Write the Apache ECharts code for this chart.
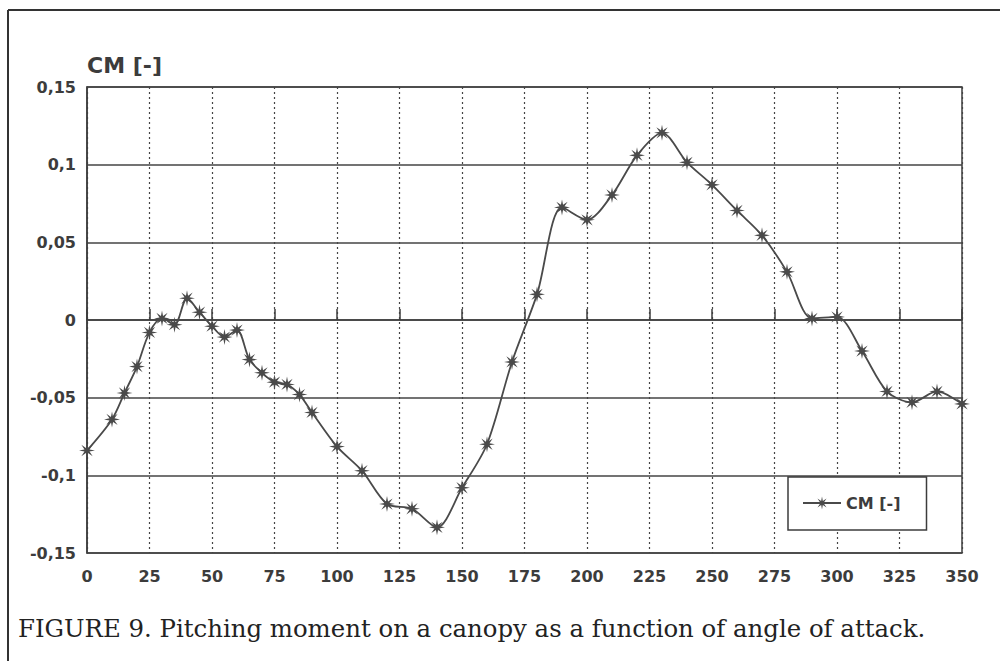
<!DOCTYPE html>
<html>
<head>
<meta charset="utf-8">
<script src="https://cdn.jsdelivr.net/npm/echarts@6/dist/echarts.min.js"></script>
<style>
  html, body { margin: 0; padding: 0; background: #fff; }
  #chart { width: 1000px; height: 661px; }
</style>
</head>
<body>
<div id="chart"></div>
<script>
// angle of attack [deg]
const angles = [0, 10, 15, 20, 25, 30, 35, 40, 45, 50, 55, 60, 65, 70, 75, 80, 85, 90,
  100, 110, 120, 130, 140, 150, 160, 170, 180, 190, 200, 210, 220, 230, 240, 250,
  260, 270, 280, 290, 300, 310, 320, 330, 340, 350];
// pitching moment CM [-]
const cm = [-0.084, -0.064, -0.047, -0.030, -0.008, 0.001, -0.003, 0.014, 0.005, -0.004,
  -0.011, -0.0065, -0.0255, -0.034, -0.040, -0.0415, -0.048, -0.0595,
  -0.0815, -0.097, -0.1185, -0.1215, -0.1335, -0.108, -0.080, -0.027, 0.0165, 0.0725,
  0.0645, 0.0805, 0.106, 0.1205, 0.1015, 0.087, 0.0705, 0.0545, 0.031, 0.001,
  0.002, -0.020, -0.046, -0.053, -0.046, -0.054];

const xTicks = [0, 25, 50, 75, 100, 125, 150, 175, 200, 225, 250, 275, 300, 325, 350];
const yTicks = [-0.15, -0.1, -0.05, 0, 0.05, 0.1, 0.15];
const yTickLabels = ['-0,15', '-0,1', '-0,05', '0', '0,05', '0,1', '0,15'];

const seriesName = 'CM [-]';
const caption = 'FIGURE 9. Pitching moment on a canopy as a function of angle of attack.';

// asterisk marker
function starPath() {
  let d = '';
  for (let i = 0; i < 16; i++) {
    const a = i * Math.PI / 8;
    const r = i % 2 === 0 ? 50 : 17;
    const x = (50 + r * Math.sin(a)).toFixed(2);
    const y = (50 - r * Math.cos(a)).toFixed(2);
    d += (i === 0 ? 'M' : 'L') + x + ' ' + y + ' ';
  }
  return 'path://' + d + 'Z';
}

const ink = '#3c3c3c';
const labelFont = { color: ink, fontFamily: 'DejaVu Sans', fontWeight: 'bold', fontSize: 16 };

const chart = echarts.init(document.getElementById('chart'), null, { renderer: 'svg' });
chart.setOption({
  backgroundColor: '#fff',
  animation: false,
  grid: {
    left: 87, top: 87, right: 38, bottom: 108,
    show: true, borderColor: ink, borderWidth: 1.5
  },
  legend: {
    left: 788, top: 477,
    width: 130,
    padding: [18, 26, 19, 14],
    backgroundColor: '#fff',
    borderColor: ink, borderWidth: 1.5,
    itemWidth: 38, itemHeight: 16,
    textStyle: labelFont,
    data: [seriesName]
  },
  xAxis: {
    type: 'value',
    min: xTicks[0], max: xTicks[xTicks.length - 1], interval: 25,
    axisLine: { show: true, lineStyle: { color: ink, width: 1.5 } },
    axisTick: { show: true, inside: true, length: 11, lineStyle: { color: ink, width: 1.5 } },
    axisLabel: Object.assign({ margin: 15 }, labelFont),
    splitLine: { show: true, lineStyle: { color: '#444', type: [2, 3], width: 1.2 } }
  },
  yAxis: {
    type: 'value',
    min: yTicks[0], max: yTicks[yTicks.length - 1], interval: 0.05,
    name: seriesName,
    nameLocation: 'end',
    nameGap: 22,
    nameTextStyle: {
      color: ink, fontFamily: 'DejaVu Sans', fontWeight: 'bold', fontSize: 22,
      align: 'left', verticalAlign: 'middle'
    },
    axisLine: { show: true, lineStyle: { color: ink, width: 1.5 } },
    axisTick: { show: false },
    axisLabel: Object.assign({
      margin: 11,
      formatter: function (v) {
        const i = yTicks.findIndex(t => Math.abs(t - v) < 1e-9);
        return i >= 0 ? yTickLabels[i] : '';
      }
    }, labelFont),
    splitLine: { show: true, lineStyle: { color: '#444', width: 1.5 } }
  },
  graphic: [
    { type: 'line', shape: { x1: 8, y1: 10, x2: 8, y2: 661 }, style: { stroke: '#333', lineWidth: 2 } },
    { type: 'line', shape: { x1: 8, y1: 10, x2: 1000, y2: 10 }, style: { stroke: '#333', lineWidth: 2 } },
    {
      type: 'text', left: 18, top: 616,
      style: { text: caption, fill: '#222', font: '24.4px "DejaVu Serif"' }
    }
  ],
  series: [{
    name: seriesName,
    type: 'line',
    smooth: 0.3,
    data: angles.map((a, i) => [a, cm[i]]),
    symbol: starPath(),
    symbolSize: 16,
    itemStyle: { color: '#4a4a4a' },
    lineStyle: { color: '#4a4a4a', width: 1.8 },
    clip: false
  }]
});
</script>
</body>
</html>
